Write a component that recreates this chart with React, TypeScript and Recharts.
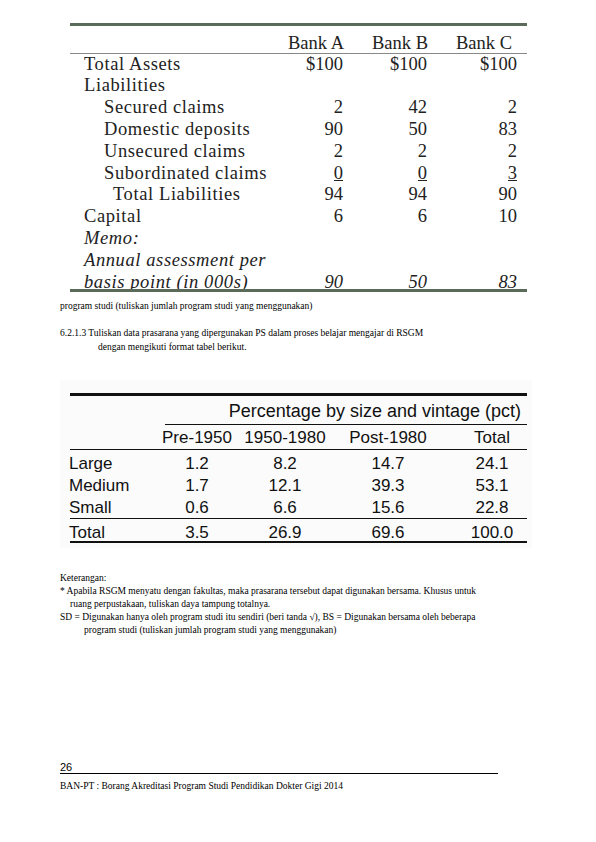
import { Surface, Text, Rectangle } from 'recharts'

// Table 1: bank balance sheets
const banks = ['Bank A', 'Bank B', 'Bank C']
const bankRows = ['Total Assets', 'Liabilities', 'Secured claims', 'Domestic deposits', 'Unsecured claims', 'Subordinated claims', 'Total Liabilities', 'Capital', 'Memo:', 'Annual assessment per', 'basis point (in 000s)']
const bankIndent = [0, 0, 1, 1, 1, 1, 2, 0, 0, 0, 0]
const bankA = ['$100', '', '2', '90', '2', '0', '94', '6', '', '', '90']
const bankB = ['$100', '', '42', '50', '2', '0', '94', '6', '', '', '50']
const bankC = ['$100', '', '2', '83', '2', '3', '90', '10', '', '', '83']
const underlinedRow = 5
const italicFrom = 8

// Table 2: percentage by size and vintage
const vintages = ['Pre-1950', '1950-1980', 'Post-1980', 'Total']
const sizes = ['Large', 'Medium', 'Small']
const pre1950 = ['1.2', '1.7', '0.6']
const mid = ['8.2', '12.1', '6.6']
const post1980 = ['14.7', '39.3', '15.6']
const totals = ['24.1', '53.1', '22.8']
const totalRow = ['3.5', '26.9', '69.6', '100.0']

const serif = 'Liberation Serif'
const sans = 'Liberation Sans'

export default function App() {
  const bankCols = [bankA, bankB, bankC]
  const bankHeadX = [316, 400, 484]
  const bankRight = [343, 427, 517]
  const indentX = [84, 104, 113]
  const vintX = [197, 285, 388, 492]
  const vintCols = [pre1950, mid, post1980, totals]
  const small = { fontFamily: serif, fontSize: 9.5, fill: '#000' }
  const big = { fontFamily: serif, fontSize: 18.5 }
  return (
    <div style={{ position: 'absolute', left: 0, top: 0, width: 596, height: 842, background: '#fff' }}>
      <Surface width={596} height={842}>
        {/* table 1 */}
        <Rectangle x={70} y={23} width={457} height={3} fill="#5a6b5a" />
        {banks.map((b, i) => (
          <Text key={b} x={bankHeadX[i]} y={42} textAnchor="middle" verticalAnchor="middle" fontFamily={serif} style={big} fill="#222">{b}</Text>
        ))}
        <Rectangle x={70} y={53} width={457} height={1} fill="#888" />
        {bankRows.map((r, i) => {
          const y = 63 + i * 21.8
          const it = i >= italicFrom
          return (
            <g key={r}>
              <Text x={indentX[bankIndent[i]]} y={y} verticalAnchor="middle" fontFamily={serif} style={{ ...big, fontStyle: it ? 'italic' : 'normal', letterSpacing: 0.6 }} fill="#222">{r}</Text>
              {bankCols.map((c, j) => c[i] ? (
                <g key={j}>
                  <Text x={bankRight[j]} y={y} textAnchor="end" verticalAnchor="middle" fontFamily={serif} style={{ ...big, fontStyle: it ? 'italic' : 'normal' }} fill="#222">{c[i]}</Text>
                  {i === underlinedRow && <Rectangle x={bankRight[j] - 9} y={y + 8} width={9} height={1} fill="#222" />}
                </g>
              ) : null)}
            </g>
          )
        })}
        <Rectangle x={70} y={289} width={457} height={3} fill="#5a6b5a" />
        <Text x={60} y={306} verticalAnchor="middle" fontFamily={serif} style={small}>program studi (tuliskan jumlah program studi yang menggunakan)</Text>
        <Text x={60} y={333} verticalAnchor="middle" fontFamily={serif} style={small}>6.2.1.3   Tuliskan data prasarana yang dipergunakan PS dalam proses belajar mengajar di RSGM</Text>
        <Text x={98} y={347} verticalAnchor="middle" fontFamily={serif} style={small}>dengan  mengikuti format tabel berikut.</Text>

        {/* table 2 */}
        <Rectangle x={60} y={380} width={472} height={168} fill="#fbfbfb" />
        <Rectangle x={70} y={393} width={457} height={3} fill="#111" />
        <Text x={521} y={411} textAnchor="end" verticalAnchor="middle" fontFamily={sans} style={{ fontFamily: sans, fontSize: 18 }} fill="#111">Percentage by size and vintage (pct)</Text>
        <Rectangle x={165} y={424} width={362} height={1} fill="#111" />
        {vintages.map((v, i) => (
          <Text key={v} x={vintX[i]} y={437} textAnchor="middle" verticalAnchor="middle" fontFamily={sans} style={{ fontFamily: sans, fontSize: 17 }} fill="#111">{v}</Text>
        ))}
        <Rectangle x={70} y={449} width={457} height={1} fill="#111" />
        {sizes.map((s, i) => (
          <g key={s}>
            <Text x={69} y={463 + i * 22} verticalAnchor="middle" fontFamily={sans} style={{ fontFamily: sans, fontSize: 17 }} fill="#111">{s}</Text>
            {vintCols.map((c, j) => (
              <Text key={j} x={vintX[j]} y={463 + i * 22} textAnchor="middle" verticalAnchor="middle" fontFamily={sans} style={{ fontFamily: sans, fontSize: 17 }} fill="#111">{c[i]}</Text>
            ))}
          </g>
        ))}
        <Rectangle x={70} y={518} width={457} height={1} fill="#111" />
        <Text x={69} y={532} verticalAnchor="middle" fontFamily={sans} style={{ fontFamily: sans, fontSize: 17 }} fill="#111">Total</Text>
        {totalRow.map((t, j) => (
          <Text key={j} x={vintX[j]} y={532} textAnchor="middle" verticalAnchor="middle" fontFamily={sans} style={{ fontFamily: sans, fontSize: 17 }} fill="#111">{t}</Text>
        ))}
        <Rectangle x={70} y={541} width={457} height={2} fill="#111" />

        {/* notes */}
        <Text x={60} y={578} verticalAnchor="middle" fontFamily={serif} style={small}>Keterangan:</Text>
        <Text x={60} y={591} verticalAnchor="middle" fontFamily={serif} style={small}>* Apabila RSGM menyatu dengan fakultas, maka prasarana tersebut dapat digunakan bersama.  Khusus untuk</Text>
        <Text x={70} y={604} verticalAnchor="middle" fontFamily={serif} style={small}>ruang perpustakaan, tuliskan daya tampung totalnya.</Text>
        <Text x={60} y={617} verticalAnchor="middle" fontFamily={serif} style={small}>SD = Digunakan hanya oleh program studi itu sendiri (beri tanda √), BS = Digunakan bersama oleh beberapa</Text>
        <Text x={84} y={630} verticalAnchor="middle" fontFamily={serif} style={small}>program studi (tuliskan jumlah program studi yang menggunakan)</Text>

        {/* footer */}
        <Text x={60} y={767} verticalAnchor="middle" fontFamily={sans} style={{ fontFamily: sans, fontSize: 11 }} fill="#000">26</Text>
        <Rectangle x={60} y={773} width={438} height={1} fill="#000" />
        <Text x={60} y={786} verticalAnchor="middle" fontFamily={serif} style={small}>BAN-PT : Borang Akreditasi Program Studi Pendidikan Dokter Gigi 2014</Text>
      </Surface>
    </div>
  )
}
